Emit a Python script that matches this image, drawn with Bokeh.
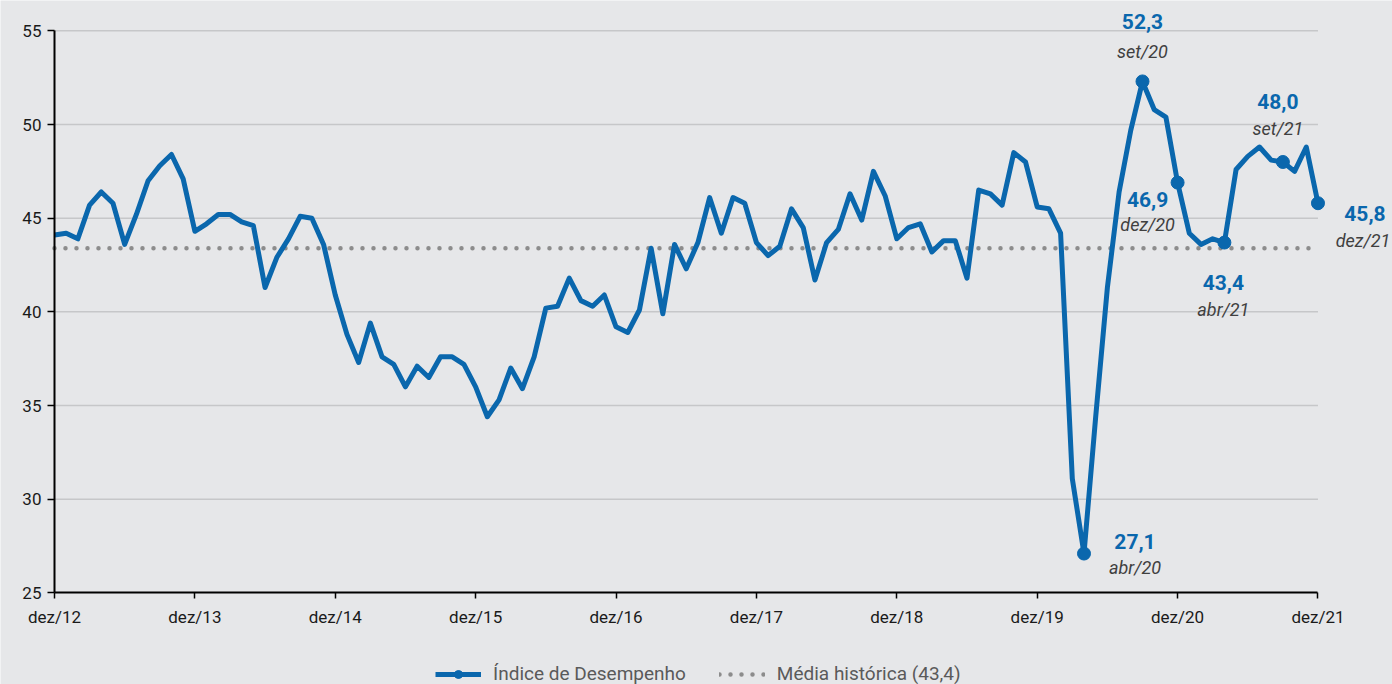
from bokeh.plotting import figure
from bokeh.models import (Range1d, FixedTicker, ColumnDataSource, LabelSet,
                          Legend, LegendItem)
from bokeh.core.properties import value
from bokeh.embed import file_html
from bokeh.resources import INLINE

# ---------------- data ----------------
# Índice de Desempenho, monthly, dez/12 ... dez/21
valores = [
    44.1, 44.2, 43.9, 45.7, 46.4, 45.8, 43.6, 45.2, 47.0, 47.8, 48.4, 47.1,   # dez/12 - nov/13
    44.3, 44.7, 45.2, 45.2, 44.8, 44.6, 41.3, 42.9, 43.9, 45.1, 45.0, 43.6,   # dez/13 - nov/14
    40.9, 38.8, 37.3, 39.4, 37.6, 37.2, 36.0, 37.1, 36.5, 37.6, 37.6, 37.2,   # dez/14 - nov/15
    36.0, 34.4, 35.3, 37.0, 35.9, 37.6, 40.2, 40.3, 41.8, 40.6, 40.3, 40.9,   # dez/15 - nov/16
    39.2, 38.9, 40.1, 43.4, 39.9, 43.6, 42.3, 43.7, 46.1, 44.2, 46.1, 45.8,   # dez/16 - nov/17
    43.7, 43.0, 43.5, 45.5, 44.5, 41.7, 43.7, 44.4, 46.3, 44.9, 47.5, 46.2,   # dez/17 - nov/18
    43.9, 44.5, 44.7, 43.2, 43.8, 43.8, 41.8, 46.5, 46.3, 45.7, 48.5, 48.0,   # dez/18 - nov/19
    45.6, 45.5, 44.2, 31.1, 27.1, 34.4, 41.3, 46.4, 49.7, 52.3, 50.8, 50.4,   # dez/19 - nov/20
    46.9, 44.2, 43.6, 43.9, 43.7, 47.6, 48.3, 48.8, 48.1, 48.0, 47.5, 48.8,   # dez/20 - nov/21
    45.8,                                                                     # dez/21
]
meses = list(range(len(valores)))

ticks_x = [0, 12, 24, 36, 48, 60, 72, 84, 96, 108]
rotulos_x = ["dez/12", "dez/13", "dez/14", "dez/15", "dez/16",
             "dez/17", "dez/18", "dez/19", "dez/20", "dez/21"]
ticks_y = [25, 30, 35, 40, 45, 50, 55]
grade_y = [30, 35, 40, 45, 50, 55]

media_hist = 43.4
rotulo_media = "Média histórica (43,4)"
rotulo_indice = "Índice de Desempenho"

destaque_idx = [88, 93, 96, 100, 105, 108]
destaque_valor = ["27,1", "52,3", "46,9", "43,4", "48,0", "45,8"]
destaque_data = ["abr/20", "set/20", "dez/20", "abr/21", "set/21", "dez/21"]

# label offsets (screen px) – layout only
off_val_x = [51, 0, -30, -1, -5, 47]
off_val_y = [12, 60, -17, -40, 60, -10]
off_dat_x = [51, 0, -30, -1, -5, 45]
off_dat_y = [-14, 30, -42, -67, 33, -37]

# ---------------- style ----------------
BG = "#E6E7E9"
BLUE = "#0A67AD"
GRAY_DOT = "#8C8C8C"
GRID = "#C6C7C9"
FONT = "Roboto"

p = figure(width=1392, height=684,
           x_range=Range1d(-4.614, 114.37), y_range=Range1d(20.11, 56.62),
           output_backend="svg", toolbar_location=None,
           min_border_left=0, min_border_right=0,
           min_border_top=0, min_border_bottom=0)
p.background_fill_color = BG
p.border_fill_color = BG
p.outline_line_color = None
p.xgrid.visible = False
p.ygrid.visible = False

# horizontal grid lines (bounded to the data span)
p.segment(x0=[meses[0]] * len(grade_y), x1=[meses[-1]] * len(grade_y),
          y0=grade_y, y1=grade_y, line_color=GRID, line_width=1.5)

# historical mean, dotted
media_r = p.line(x=[meses[0], meses[-1]], y=[media_hist, media_hist],
                 line_color=GRAY_DOT, line_width=4.5, line_dash="0 11",
                 line_cap="round")

# main series
linha_r = p.line(x=meses, y=valores, line_color=BLUE, line_width=5,
                 line_join="round")

src = ColumnDataSource(dict(
    x=destaque_idx,
    y=[valores[i] for i in destaque_idx],
    val=destaque_valor, dat=destaque_data,
    vx=off_val_x, vy=off_val_y, dx=off_dat_x, dy=off_dat_y,
))
pontos_r = p.scatter(x="x", y="y", source=src, size=13, fill_color=BLUE,
                     line_color=BLUE)

lab_val = LabelSet(x="x", y="y", text="val", source=src,
                   x_offset="vx", y_offset="vy",
                   text_font=value(FONT), text_font_size=value("21px"),
                   text_font_style="bold", text_color=BLUE,
                   text_align="center", text_baseline="middle")
lab_dat = LabelSet(x="x", y="y", text="dat", source=src,
                   x_offset="dx", y_offset="dy",
                   text_font=value(FONT), text_font_size=value("18px"),
                   text_font_style="italic", text_color="#404040",
                   text_align="center", text_baseline="middle")
p.add_layout(lab_val)
p.add_layout(lab_dat)

# axes
for ax in (p.xaxis[0], p.yaxis[0]):
    ax.axis_line_color = "black"
    ax.axis_line_width = 2
    ax.major_tick_line_color = "black"
    ax.major_tick_line_width = 1.5
    ax.major_tick_in = 0
    ax.minor_tick_line_color = None
    ax.major_label_text_font = FONT
    ax.major_label_text_font_size = "17px"
    ax.major_label_text_color = "#1A1A1A"

p.xaxis.ticker = FixedTicker(ticks=ticks_x)
p.xaxis.major_label_overrides = {t: l for t, l in zip(ticks_x, rotulos_x)}
p.xaxis.bounds = (meses[0], meses[-1])
p.xaxis.fixed_location = ticks_y[0]
p.xaxis.major_tick_out = 6
p.xaxis.major_label_standoff = 8

p.yaxis.ticker = FixedTicker(ticks=ticks_y)
p.yaxis.bounds = (ticks_y[0], ticks_y[-1])
p.yaxis.fixed_location = meses[0]
p.yaxis.major_tick_out = 7
p.yaxis.major_label_standoff = 6

legend = Legend(items=[
    LegendItem(label=rotulo_indice, renderers=[linha_r, pontos_r]),
    LegendItem(label=rotulo_media, renderers=[media_r]),
], orientation="horizontal", location=(435, -1))
legend.background_fill_alpha = 0
legend.border_line_alpha = 0
legend.padding = 0
legend.margin = 0
legend.glyph_width = 46
legend.glyph_height = 20
legend.label_standoff = 12
legend.spacing = 33
legend.label_text_font = FONT
legend.label_text_font_size = "19px"
legend.label_text_color = "#5A5A5A"
p.add_layout(legend)

open("out.html", "w").write(file_html(p, INLINE))
